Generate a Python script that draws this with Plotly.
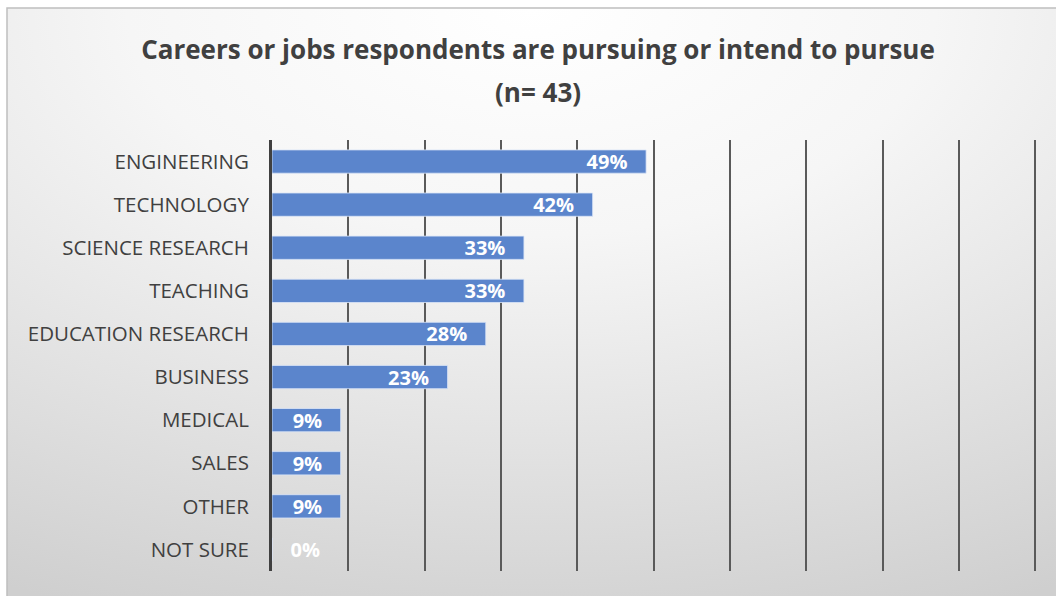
import base64
import plotly.graph_objects as go

categories = ["ENGINEERING", "TECHNOLOGY", "SCIENCE RESEARCH", "TEACHING",
              "EDUCATION RESEARCH", "BUSINESS", "MEDICAL", "SALES", "OTHER", "NOT SURE"]
values = [49, 42, 33, 33, 28, 23, 9, 9, 9, 0]
title_line1 = "Careers or jobs respondents are pursuing or intend to pursue"
title_line2 = "(n= 43)"

NB = "\u00a0"
labels = [f"{v}%" + NB * 3 if v > 0 else NB * 3 + f"{v}%" for v in values]
positions = ["inside" if v > 0 else "outside" for v in values]

svg = """<svg xmlns='http://www.w3.org/2000/svg' width='1000' height='600' preserveAspectRatio='none' viewBox='0 0 1000 600'>
<defs><radialGradient id='g' cx='50%' cy='0%' r='110%' fx='50%' fy='0%'>
<stop offset='0' stop-color='#ffffff'/><stop offset='0.35' stop-color='#f6f6f6'/>
<stop offset='1' stop-color='#cfcfcf'/></radialGradient></defs>
<rect width='1000' height='600' fill='url(#g)'/></svg>"""
bg_src = "data:image/svg+xml;base64," + base64.b64encode(svg.encode()).decode()

fig = go.Figure(go.Bar(
    x=values, y=categories, orientation="h",
    marker=dict(color="#5b85cc", line=dict(color="rgba(220,230,248,0.8)", width=1)),
    text=labels, textposition=positions,
    insidetextanchor="end", constraintext="none",
    insidetextfont=dict(family="Open Sans", size=20, color="white", weight="bold"),
    outsidetextfont=dict(family="Open Sans", size=20, color="white", weight="bold"),
    cliponaxis=False, hoverinfo="skip",
))

# plot area: x 272..1037, y 140..571
L, R, T, B = 272, 19, 140, 25
W, H = 1056, 596
pw, ph = W - L - R, H - T - B
def px_x(p): return (p - L) / pw
def px_y(p): return (H - B - p) / ph

fig.update_layout(
    width=W, height=H,
    margin=dict(l=L, r=R, t=T, b=B),
    paper_bgcolor="white", plot_bgcolor="rgba(0,0,0,0)",
    showlegend=False,
    bargap=0.46,
    title=dict(text=title_line1, x=538 / W, xanchor="center", y=1 - 50 / H, yanchor="middle",
               font=dict(family="Open Sans", size=26, color="#404040", weight="bold")),
    annotations=[dict(text=title_line2, xref="paper", yref="paper", x=px_x(538), y=px_y(92),
                      xanchor="center", yanchor="middle", showarrow=False,
                      font=dict(family="Open Sans", size=26, color="#404040", weight="bold"))],
    images=[dict(source=bg_src, xref="paper", yref="paper", x=px_x(7), y=px_y(8),
                 sizex=px_x(1056) - px_x(7), sizey=px_y(8) - px_y(598),
                 sizing="stretch", layer="below", xanchor="left", yanchor="top")],
    shapes=[dict(type="rect", xref="paper", yref="paper", x0=px_x(7), x1=px_x(1060),
                 y0=px_y(598), y1=px_y(8), line=dict(color="#bfbfbf", width=1.5), layer="below")],
    xaxis=dict(range=[0, 100.2], dtick=10, showticklabels=False, showgrid=True,
               gridcolor="#5a5a5a", gridwidth=1.5, zeroline=False, showline=False, fixedrange=True),
    yaxis=dict(categoryorder="array", categoryarray=categories, autorange="reversed",
               showline=True, linecolor="#404040", linewidth=3, ticks="",
               ticklabelstandoff=16,
               tickfont=dict(family="Open Sans", size=20.5, color="#404040"), fixedrange=True),
)

fig.write_html("out.html")
